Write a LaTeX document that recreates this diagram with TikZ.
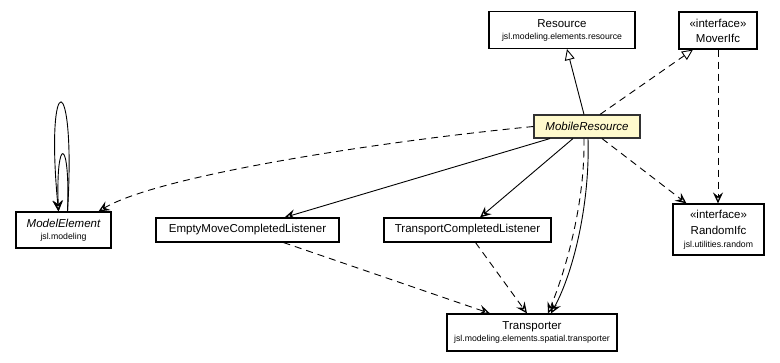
\documentclass[tikz,border=0pt]{standalone}
\usepackage{fontspec}
\setmainfont{Liberation Sans}
\usetikzlibrary{arrows.meta}
\definecolor{hilite}{RGB}{255,250,205}
\definecolor{framegray}{RGB}{50,50,50}
\newcommand\pkgfont{\fontsize{8.7}{12}\selectfont}

\begin{document}
\begin{tikzpicture}[x=1pt,y=-1pt,
  box/.style={draw=black, line width=1.1pt, fill=white, inner sep=0pt,
    align=center, font=\fontsize{11.5}{15}\selectfont},
  current/.style={box, draw=framegray, fill=hilite, font=\fontsize{11.5}{15}\selectfont\itshape},
  openvee/.tip={Stealth[open, length=11pt, width=10pt, inset=4pt, line width=1.3pt]},
  hollow/.tip={Triangle[fill=white, length=11pt, width=10pt]},
  conn/.style={line width=0.9pt},
  use/.style={conn, -openvee},
  dep/.style={conn, -openvee, dash pattern=on 7pt off 5pt},
  gen/.style={conn, -hollow},
  real/.style={conn, -hollow, dash pattern=on 7pt off 5pt}]
\useasboundingbox (0,0) rectangle (780,363);

% classes
\node[box, minimum width=146pt, minimum height=37pt] (res) at (562,30)
  {Resource\\[-3pt]{\pkgfont jsl.modeling.elements.resource}};
\node[box, minimum width=78pt, minimum height=37pt] (mi) at (718,30.5)
  {«interface»\\MoverIfc};
\node[current, minimum width=106pt, minimum height=23pt] (mr) at (587,126.5)
  {MobileResource};
\node[box, minimum width=95pt, minimum height=36pt] (me) at (63.5,230)
  {\itshape ModelElement\\[-3pt]{\pkgfont jsl.modeling}};
\node[box, minimum width=183pt, minimum height=24pt] (em) at (247.5,230)
  {EmptyMoveCompletedListener};
\node[box, minimum width=167pt, minimum height=24pt] (tcl) at (467.5,230)
  {TransportCompletedListener};
\node[box, minimum width=91pt, minimum height=51pt] (ri) at (718.5,229.5)
  {«interface»\\[1pt]RandomIfc\\[-2pt]{\pkgfont jsl.utilities.random}};
\node[box, minimum width=170pt, minimum height=37pt] (tr) at (532,332.5)
  {Transporter\\[-3pt]{\pkgfont jsl.modeling.elements.spatial.transporter}};

% inheritance and realization
\draw[gen] ([xshift=-3pt]mr.north) -- ([xshift=5pt]res.south);
\draw[real] ([xshift=13pt]mr.north) -- ([xshift=-25pt]mi.south);

% dependencies and associations
\draw[dep] (mi.south) -- (mi.south |- ri.north);
\draw[dep] ([xshift=15pt]mr.south) -- ([xshift=-32pt]ri.north);
\draw[use] ([xshift=-37pt]mr.south) -- ([xshift=37pt]em.north);
\draw[use] ([xshift=-14pt]mr.south) -- ([xshift=12.5pt]tcl.north);
\draw[use] ([xshift=1pt]mr.south) .. controls +(2,61) and +(24,-44) .. ([xshift=19pt]tr.north);
\draw[dep] ([xshift=-3pt]mr.south) .. controls +(1,61) and +(20,-49) .. ([xshift=16pt]tr.north);
\draw[dep] ([xshift=36pt]em.south) -- ([xshift=-42pt]tr.north);
\draw[dep] ([xshift=8pt]tcl.south) -- ([xshift=-5pt]tr.north);
\draw[dep] (mr.west) .. controls +(-154,15) and +(60,-36) .. ([xshift=35pt]me.north);

% self references of ModelElement
\draw[use] ([xshift=4pt]me.north) .. controls +(9,-145) and +(-14,-145) .. ([xshift=-5pt]me.north);
\draw[use] ([xshift=4pt]me.north) .. controls +(3,-76) and +(-3,-76) .. ([xshift=-5pt]me.north);
\end{tikzpicture}
\end{document}
